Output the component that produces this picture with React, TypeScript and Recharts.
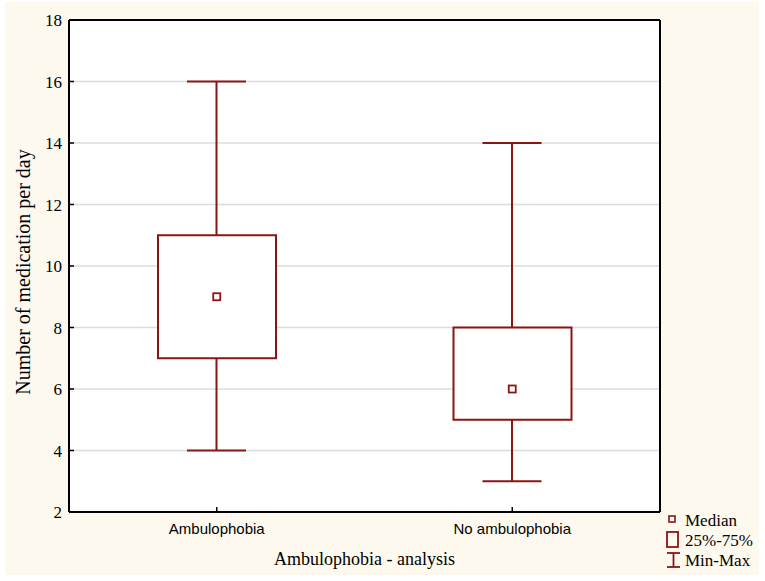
import { Bar, CartesianGrid, ComposedChart, Line, XAxis, YAxis } from 'recharts';

const categories = ['Ambulophobia', 'No ambulophobia'];
const minValues = [4, 3];
const q1Values = [7, 5];
const medianValues = [9, 6];
const q3Values = [11, 8];
const maxValues = [16, 14];
const yTicks = [2, 4, 6, 8, 10, 12, 14, 16, 18];

const RED = '#8b1515';
const CREAM = '#fdf9ef';
const SERIF = '"Liberation Serif", "Times New Roman", serif';
const SANS = '"Liberation Sans", Arial, sans-serif';

const data = categories.map((name, i) => ({
  name,
  min: minValues[i],
  q1: q1Values[i],
  median: medianValues[i],
  q3: q3Values[i],
  max: maxValues[i],
}));

function BoxShape(props: any) {
  const { x, y, width, height } = props;
  const top = Math.min(y, y + height);
  return <rect x={x} y={top} width={width} height={Math.abs(height)} fill="#fff" stroke={RED} strokeWidth={2} />;
}

function WhiskerShape(props: any) {
  const { x, y, width, height } = props;
  const top = Math.min(y, y + height);
  const bottom = Math.max(y, y + height);
  const cx = x + width / 2;
  return (
    <g stroke={RED} strokeWidth={2}>
      <line x1={cx} y1={top} x2={cx} y2={bottom} />
      <line x1={x} y1={top} x2={x + width} y2={top} />
      <line x1={x} y1={bottom} x2={x + width} y2={bottom} />
    </g>
  );
}

function MedianDot(props: any) {
  const { cx, cy } = props;
  if (cx == null || cy == null) return null;
  return <rect x={cx - 3.5} y={cy - 3.5} width={7} height={7} fill="#fff" stroke={RED} strokeWidth={1.8} />;
}

function YTick(props: any) {
  const { x, y, payload } = props;
  return (
    <text x={x} y={y + 6} textAnchor="end" style={{ fontFamily: SERIF }} fontSize={17} fill="#000">
      {payload.value}
    </text>
  );
}

function XTick(props: any) {
  const { x, y, payload } = props;
  return (
    <text x={x} y={y + 14} textAnchor="middle" style={{ fontFamily: SANS }} fontSize={15} fill="#000">
      {payload.value}
    </text>
  );
}

function YTitle(props: any) {
  const vb = props.viewBox;
  const cx = vb.x + 25;
  const cy = vb.y + vb.height / 2 + 6;
  return (
    <text x={cx} y={cy} transform={`rotate(-90 ${cx} ${cy})`} textAnchor="middle" style={{ fontFamily: SERIF }} fontSize={20} fill="#000">
      Number of medication per day
    </text>
  );
}

function XTitle(props: any) {
  const vb = props.viewBox;
  return (
    <text x={vb.x + vb.width / 2} y={vb.y + 53} textAnchor="middle" style={{ fontFamily: SERIF }} fontSize={18} fill="#000">
      Ambulophobia - analysis
    </text>
  );
}

function LegendBox() {
  return (
    <svg width={99} height={68} style={{ position: 'absolute', left: 655, top: 505, overflow: 'visible' }}>
      <g transform="translate(-655 -505)">
        <rect x={664} y={514} width={6} height={6} fill="#fff" stroke={RED} strokeWidth={1.6} />
        <rect x={662} y={530} width={11} height={15} fill="none" stroke={RED} strokeWidth={1.8} />
        <g stroke={RED} strokeWidth={1.8}>
          <line x1={668.5} y1={551} x2={668.5} y2={565} />
          <line x1={662} y1={551} x2={675} y2={551} />
          <line x1={662} y1={565} x2={675} y2={565} />
        </g>
        <g style={{ fontFamily: SERIF }} fontSize={17} fill="#000">
          <text x={680} y={524}>Median</text>
          <text x={680} y={544}>25%-75%</text>
          <text x={680} y={564}>Min-Max</text>
        </g>
      </g>
    </svg>
  );
}

export default function App() {
  return (
    <div style={{ position: 'absolute', left: 5, top: 2, width: 754, height: 573, background: CREAM }}>
      <ComposedChart width={754} height={573} data={data} margin={{ top: 17, right: 98, bottom: 0, left: 0 }}>
        <CartesianGrid xAxisId="b" yAxisId="l" vertical={false} stroke="#dcdcdc" strokeWidth={1.5} fill="#fff" />
        <XAxis
          xAxisId="b"
          dataKey="name"
          height={63}
          axisLine={{ stroke: '#000', strokeWidth: 2 }}
          tickLine={{ stroke: '#000', strokeWidth: 1.5 }}
          tickSize={-5}
          tickMargin={13}
          tick={<XTick />}
          label={XTitle}
        />
        <XAxis
          xAxisId="t"
          dataKey="name"
          orientation="top"
          height={1}
          axisLine={{ stroke: '#000', strokeWidth: 2 }}
          tickLine={{ stroke: '#000', strokeWidth: 1.5 }}
          tickSize={-5}
          tick={false}
        />
        <YAxis
          yAxisId="l"
          type="number"
          domain={[2, 18]}
          ticks={yTicks}
          allowDataOverflow
          width={64}
          axisLine={{ stroke: '#000', strokeWidth: 2 }}
          tickLine={{ stroke: '#000', strokeWidth: 1.5 }}
          tickSize={-5}
          tickMargin={12}
          tick={<YTick />}
          label={YTitle}
        />
        <YAxis
          yAxisId="r"
          orientation="right"
          type="number"
          domain={[2, 18]}
          ticks={yTicks}
          allowDataOverflow
          width={1}
          axisLine={{ stroke: '#000', strokeWidth: 2 }}
          tickLine={{ stroke: '#000', strokeWidth: 1.5 }}
          tickSize={-5}
          tick={false}
        />
        <Bar
          xAxisId="t"
          yAxisId="r"
          dataKey={(d: any) => [d.min, d.max]}
          barSize={59}
          shape={<WhiskerShape />}
          activeBar={false}
          isAnimationActive={false}
        />
        <Bar
          xAxisId="b"
          yAxisId="l"
          dataKey={(d: any) => [d.q1, d.q3]}
          barSize={118}
          shape={<BoxShape />}
          activeBar={false}
          isAnimationActive={false}
        />
        <Line
          xAxisId="b"
          yAxisId="l"
          dataKey="median"
          stroke="none"
          dot={<MedianDot />}
          activeDot={false}
          isAnimationActive={false}
        />
      </ComposedChart>
      <LegendBox />
    </div>
  );
}
